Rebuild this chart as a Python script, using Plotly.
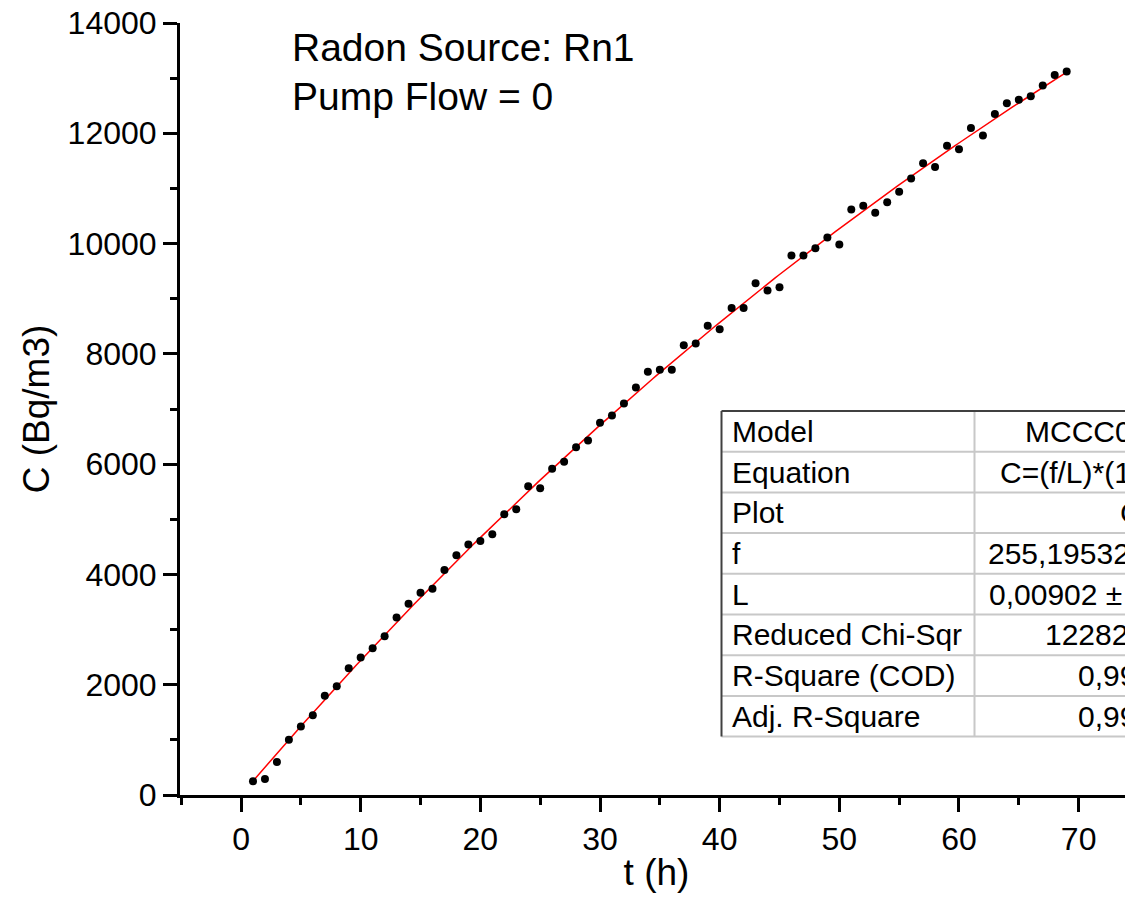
import numpy as np
import plotly.graph_objects as go

# ---------------- data ----------------
t_hours = list(range(1, 70))
concentration = [
    250, 290, 600, 1000, 1240, 1445, 1800, 1970, 2300, 2495,
    2660, 2880, 3220, 3470, 3670, 3740, 4080, 4350, 4545, 4605,
    4730, 5090, 5180, 5600, 5565, 5915, 6045, 6305, 6430, 6750,
    6880, 7100, 7390, 7675, 7710, 7710, 8155, 8190, 8510, 8445,
    8830, 8830, 9280, 9150, 9210, 9785, 9785, 9915, 10110, 9985,
    10620, 10685, 10560, 10750, 10940, 11180, 11455, 11390, 11775, 11710,
    12095, 11960, 12350, 12545, 12610, 12670, 12865, 13055, 13120,
]

fit_f = 255.19532
fit_L = 0.00902

x_ticks = [0, 10, 20, 30, 40, 50, 60, 70]
y_ticks = [0, 2000, 4000, 6000, 8000, 10000, 12000, 14000]

table_labels = ["Model", "Equation", "Plot", "f", "L",
                "Reduced Chi-Sqr", "R-Square (COD)", "Adj. R-Square"]
table_values = ["MCCC001", "C=(f/L)*(1-exp(-L*t))", "C", "255,19532 ± 2,45113",
                "0,00902 ± 1,8516E-4", "12282,4571", "0,9997", "0,99969"]

note_lines = ["Radon Source: Rn1", "Pump Flow = 0"]

# ---------------- layout geometry (pixels) ----------------
OFF = 8                      # page body margin
W, H = 1133 - OFF, 917 - OFF
PL, PR, PT, PB = 180, 1133, 23, 795   # plot area edges in screenshot px
FONT = "Liberation Sans, Arial, sans-serif"


def px_x(px):
    return (px - PL) / (PR - PL)


def px_y(py):
    return (PB - py) / (PB - PT)


fit_t = np.linspace(t_hours[0], t_hours[-1], 300)
fit_c = (fit_f / fit_L) * (1 - np.exp(-fit_L * fit_t))

fig = go.Figure()
fig.add_trace(go.Scatter(
    x=fit_t, y=fit_c, mode="lines",
    line=dict(color="#ff0000", width=1.5), showlegend=False, hoverinfo="skip"))
fig.add_trace(go.Scatter(
    x=t_hours, y=concentration, mode="markers",
    marker=dict(color="black", size=8, line=dict(width=0)), showlegend=False))

x0 = -5.1
x1 = x0 + (PR - PL) / 11.966
axis_common = dict(
    showgrid=False, zeroline=False, showline=True, linecolor="black", linewidth=3,
    ticks="outside", ticklen=14, tickwidth=2.5, tickcolor="black", automargin=False,
    ticklabeloverflow="allow",
    tickfont=dict(family=FONT, size=32, color="black"),
)
fig.update_xaxes(
    range=[x0, x1], tickvals=x_ticks, ticktext=[str(v) for v in x_ticks],
    minor=dict(dtick=5, tick0=0, ticks="outside", ticklen=7, tickwidth=2.5, tickcolor="black"),
    title=dict(text="t (h)", font=dict(family=FONT, size=37, color="black"), standoff=3),
    **axis_common)
fig.update_yaxes(
    range=[0, 14000], tickvals=y_ticks, ticktext=[str(v) for v in y_ticks],
    minor=dict(dtick=1000, tick0=0, ticks="outside", ticklen=7, tickwidth=2.5, tickcolor="black"),
    title=dict(text="C (Bq/m3)", font=dict(family=FONT, size=37, color="black"), standoff=7),
    **axis_common)

shapes = []
annotations = []

# ---------- table ----------
tbl_left, tbl_top, row_h, col_div, tbl_right = 721.5, 411, 40.7, 974.5, 1300
n_rows = len(table_labels)
tbl_bottom = tbl_top + n_rows * row_h
shapes.append(dict(type="rect", xref="paper", yref="paper",
                   x0=px_x(tbl_left), x1=px_x(tbl_right), y0=px_y(tbl_bottom), y1=px_y(tbl_top),
                   fillcolor="white", line=dict(width=0), layer="above"))
for i in range(1, n_rows + 1):
    yy = tbl_top + i * row_h
    shapes.append(dict(type="line", xref="paper", yref="paper",
                       x0=px_x(tbl_left), x1=px_x(tbl_right), y0=px_y(yy), y1=px_y(yy),
                       line=dict(color="#c8c8c8", width=2), layer="above"))
shapes.append(dict(type="line", xref="paper", yref="paper",
                   x0=px_x(col_div), x1=px_x(col_div), y0=px_y(tbl_bottom), y1=px_y(tbl_top),
                   line=dict(color="#c8c8c8", width=2), layer="above"))
shapes.append(dict(type="line", xref="paper", yref="paper",
                   x0=px_x(tbl_left), x1=px_x(tbl_right), y0=px_y(tbl_top), y1=px_y(tbl_top),
                   line=dict(color="#404040", width=2), layer="above"))
shapes.append(dict(type="line", xref="paper", yref="paper",
                   x0=px_x(tbl_left), x1=px_x(tbl_left), y0=px_y(tbl_bottom), y1=px_y(tbl_top),
                   line=dict(color="#404040", width=2), layer="above"))

value_starts = [1022.7, 997.7, 1118.0, 986.0, 987.3, 1043.0, 1076.0, 1076.0]
for i, (lab, val) in enumerate(zip(table_labels, table_values)):
    yc = tbl_top + (i + 0.5) * row_h
    annotations.append(dict(text=lab, xref="paper", yref="paper", x=px_x(730), y=px_y(yc),
                            xanchor="left", yanchor="middle", showarrow=False,
                            font=dict(family=FONT, size=30, color="black")))
    annotations.append(dict(text=val, xref="paper", yref="paper", x=px_x(value_starts[i]), y=px_y(yc),
                            xanchor="left", yanchor="middle", showarrow=False,
                            font=dict(family=FONT, size=30, color="black")))

# ---------- note text ----------
for j, line in enumerate(note_lines):
    annotations.append(dict(text=line, xref="paper", yref="paper", x=px_x(290), y=px_y(47 + j * 49),
                            xanchor="left", yanchor="middle", showarrow=False,
                            font=dict(family=FONT, size=39, color="black")))

fig.update_layout(
    width=W, height=H,
    margin=dict(l=PL - OFF, r=W - (PR - OFF), t=PT - OFF, b=H - (PB - OFF), pad=0, autoexpand=False),
    paper_bgcolor="white", plot_bgcolor="white",
    shapes=shapes, annotations=annotations,
    showlegend=False,
)

fig.write_html("out.html")
